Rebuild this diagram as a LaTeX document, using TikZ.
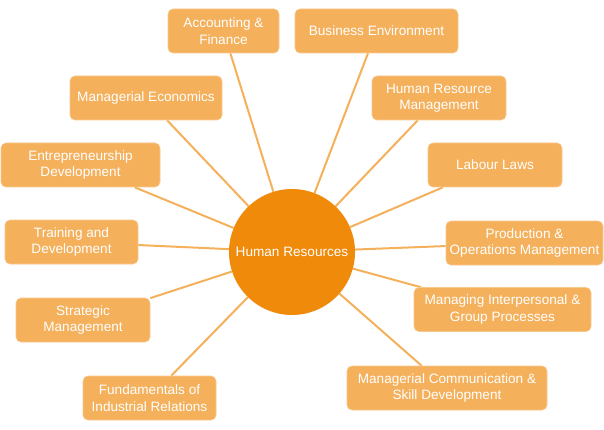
\documentclass[tikz,border=0pt]{standalone}
\usepackage{fontspec}
\setmainfont{Liberation Sans}
\usetikzlibrary{backgrounds}
\definecolor{boxc}{HTML}{F4B05B}
\definecolor{hubc}{HTML}{EF8A0B}
\begin{document}
\begin{tikzpicture}[x=1pt,y=-1pt,
  topic/.style={fill=boxc, draw=boxc!70!white, line width=0.6pt, rounded corners=5pt, text=white, align=center,
    font=\fontsize{13.6}{16.5}\selectfont, inner sep=0pt, minimum height=44pt, minimum width=#1},
  hub/.style={circle, fill=hubc, text=white, minimum size=126pt, inner sep=0pt,
    font=\fontsize{13.6}{16.5}\selectfont},
  link/.style={draw=boxc, line width=2pt}]
\useasboundingbox (0,0) rectangle (604,430);
\node[hub] (hr) at (292,252) {Human Resources};
\node[topic=111pt] (acc) at (223.5,31) {Accounting \&\\Finance};
\node[topic=163pt] (bus) at (376.5,31) {Business Environment};
\node[topic=152pt] (mecon) at (146,98) {Managerial Economics};
\node[topic=134pt] (hrm) at (439,98) {Human Resource\\Management};
\node[topic=159pt] (entr) at (80.5,165) {Entrepreneurship\\Development};
\node[topic=134pt] (lab) at (495,165) {Labour Laws};
\node[topic=133pt] (train) at (71.5,242) {Training and\\Development};
\node[topic=157pt] (prod) at (524.5,243) {Production \&\\Operations Management};
\node[topic=134pt] (strat) at (83,320) {Strategic\\Management};
\node[topic=177pt] (manip) at (502.5,309.5) {Managing Interpersonal \&\\Group Processes};
\node[topic=133pt] (fund) at (149.5,398) {Fundamentals of\\Industrial Relations};
\node[topic=200pt] (mcomm) at (447,388) {Managerial Communication \&\\Skill Development};
\begin{scope}[on background layer]
\foreach \n in {acc,bus,mecon,hrm,entr,lab,train,prod,strat,manip,fund,mcomm}
  \draw[link] (\n) -- (hr);
\end{scope}
\end{tikzpicture}
\end{document}
